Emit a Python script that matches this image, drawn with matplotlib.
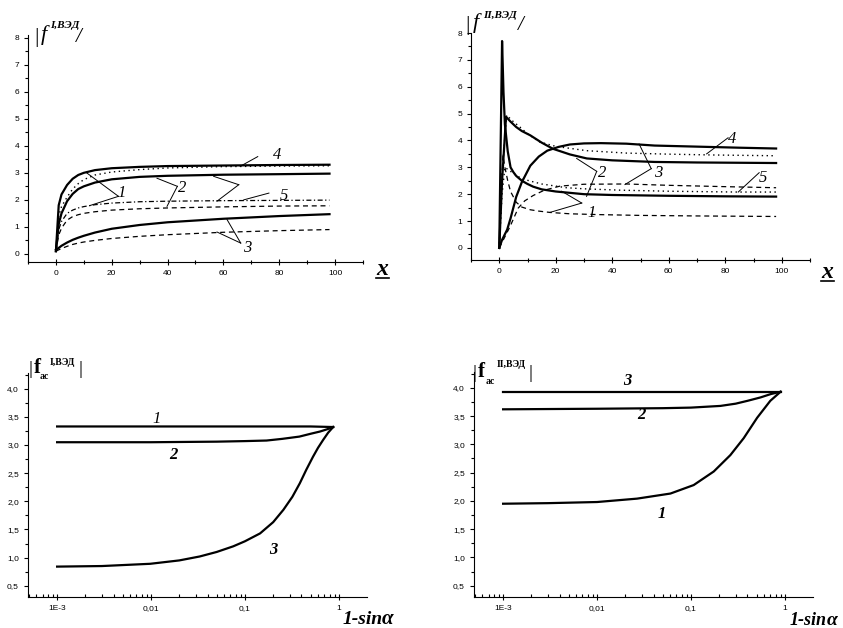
import matplotlib
matplotlib.use("Agg")
import matplotlib.pyplot as plt
from matplotlib.ticker import MultipleLocator, FuncFormatter, LogLocator, NullFormatter
from matplotlib.lines import Line2D

# ---- top-left panel |f^I| vs x ----
tl_x = [0, 1, 2, 4, 6, 8, 10, 14, 20, 30, 40, 60, 80, 98]
tl_solid4 = [0.1, 1.8, 2.2, 2.55, 2.78, 2.92, 3.0, 3.1, 3.17, 3.22, 3.25, 3.27, 3.29, 3.3]
tl_solid2 = [0.1, 1.1, 1.5, 1.95, 2.22, 2.4, 2.5, 2.64, 2.76, 2.85, 2.89, 2.93, 2.95, 2.97]
tl_dot4 = [0.1, 1.4, 1.75, 2.1, 2.4, 2.6, 2.75, 2.92, 3.03, 3.12, 3.18, 3.23, 3.25, 3.26]
tl_dashdot5 = [0.1, 0.9, 1.2, 1.5, 1.62, 1.7, 1.75, 1.82, 1.88, 1.93, 1.95, 1.97, 1.98, 1.99]
tl_dash2 = [0.1, 0.7, 0.95, 1.25, 1.38, 1.45, 1.5, 1.56, 1.62, 1.67, 1.7, 1.74, 1.77, 1.78]
tl_solid3 = [0.15, 0.22, 0.3, 0.42, 0.52, 0.6, 0.67, 0.79, 0.93, 1.07, 1.17, 1.3, 1.4, 1.47]
tl_dash3 = [0.1, 0.15, 0.2, 0.28, 0.35, 0.4, 0.44, 0.5, 0.57, 0.65, 0.71, 0.8, 0.86, 0.9]

# ---- top-right panel |f^II| vs x ----
tr_spike_x = [0, 1, 1.5, 2, 3, 4, 5, 6, 8, 10, 12, 15, 20, 30, 40, 60, 80, 98]
tr_spike_y = [0, 7.7, 5.8, 4.6, 3.6, 3.0, 2.82, 2.68, 2.5, 2.38, 2.28, 2.18, 2.1, 2.0, 1.97, 1.94, 1.92, 1.91]
tr_peak_x = [0, 1, 2.4, 4, 6, 8, 11, 15, 19, 25, 31, 40, 55, 70, 98]
tr_peak_y = [0, 2.5, 4.88, 4.7, 4.5, 4.35, 4.19, 3.92, 3.69, 3.48, 3.33, 3.26, 3.2, 3.18, 3.16]
tr_rise_x = [0, 1, 2.8, 4, 6, 8, 11, 14, 17, 21, 25, 30, 36, 45, 55, 70, 85, 98]
tr_rise_y = [0, 0.3, 0.68, 1.1, 1.9, 2.45, 3.06, 3.4, 3.62, 3.76, 3.85, 3.89, 3.9, 3.88, 3.81, 3.77, 3.73, 3.7]
tr_dash1_x = [0, 0.7, 1.3, 2, 3, 4, 6, 8, 11, 14, 18, 25, 35, 50, 70, 98]
tr_dash1_y = [0, 2.0, 3.45, 3.0, 2.5, 2.1, 1.7, 1.52, 1.42, 1.37, 1.32, 1.27, 1.24, 1.21, 1.19, 1.17]
tr_dash3_x = [0, 1.4, 3.8, 6.7, 9, 12, 16, 21.5, 30, 45, 60, 80, 98]
tr_dash3_y = [0, 0.29, 0.79, 1.48, 1.75, 1.95, 2.15, 2.3, 2.37, 2.38, 2.33, 2.28, 2.24]
tr_dot4_x = [0, 1, 2.6, 5, 7.3, 10, 14.4, 20, 30.9, 45, 60, 75, 98]
tr_dot4_y = [0, 2.8, 4.94, 4.7, 4.5, 4.25, 3.94, 3.78, 3.62, 3.53, 3.49, 3.46, 3.43]
tr_dot5_x = [0, 1, 2, 4, 6, 8, 10.9, 15, 23.8, 30, 42.7, 60, 84, 98]
tr_dot5_y = [0, 2.0, 3.0, 2.85, 2.7, 2.58, 2.49, 2.38, 2.24, 2.2, 2.15, 2.11, 2.08, 2.08]

# ---- bottom-left |f_ac^I| vs 1-sin(a) ----
bl1_x = [1e-3, 0.01, 0.1, 0.5, 0.87]
bl1_y = [3.33, 3.33, 3.33, 3.33, 3.32]
bl2_x = [1e-3, 0.01, 0.05, 0.1, 0.17, 0.25, 0.38, 0.5, 0.63, 0.75, 0.87]
bl2_y = [3.05, 3.05, 3.06, 3.07, 3.08, 3.11, 3.15, 3.2, 3.24, 3.28, 3.32]
bl3_x = [1e-3, 0.003, 0.0098, 0.02, 0.033, 0.05, 0.075, 0.1, 0.145, 0.2, 0.257, 0.32, 0.384, 0.45, 0.53, 0.6, 0.68, 0.77, 0.87]
bl3_y = [0.84, 0.85, 0.89, 0.95, 1.02, 1.1, 1.2, 1.29, 1.43, 1.63, 1.85, 2.08, 2.32, 2.56, 2.79, 2.95, 3.09, 3.22, 3.32]

# ---- bottom-right |f_ac^II| vs 1-sin(a) ----
br3_x = [1e-3, 0.01, 0.1, 0.5, 0.9]
br3_y = [3.93, 3.93, 3.93, 3.93, 3.93]
br2_x = [1e-3, 0.01, 0.05, 0.1, 0.206, 0.3, 0.4, 0.55, 0.71, 0.9]
br2_y = [3.62, 3.63, 3.64, 3.65, 3.68, 3.72, 3.77, 3.83, 3.89, 3.93]
br1_x = [1e-3, 0.003, 0.01, 0.0267, 0.0605, 0.107, 0.175, 0.263, 0.365, 0.507, 0.7, 0.9]
br1_y = [1.95, 1.96, 1.98, 2.04, 2.13, 2.28, 2.52, 2.81, 3.11, 3.47, 3.77, 3.93]

log_ticks = [1e-3, 0.01, 0.1, 1]
log_labels = ['1E-3', '0,01', '0,1', '1']

W, H = 843, 628
plt.rcParams['font.family'] = ['Liberation Sans', 'DejaVu Sans']
fig = plt.figure(figsize=(W / 100, H / 100), dpi=100)

def ax_px(l, t, r, b):
    # axes box given in pixel coords of the image
    return fig.add_axes([l / W, 1 - b / H, (r - l) / W, (b - t) / H])

def style(ax):
    ax.spines['top'].set_visible(False)
    ax.spines['right'].set_visible(False)
    ax.tick_params(which='both', labelsize=6, width=0.8)
    ax.tick_params(axis='y', which='major', direction='out', length=3)
    ax.tick_params(axis='y', which='minor', direction='out', length=2)
    ax.tick_params(axis='x', which='major', direction='inout', length=4)
    ax.tick_params(axis='x', which='minor', direction='inout', length=2.5)

def lead(ax, x0, y0, pts):
    for (x1, y1) in pts:
        ax.plot([x0, x1], [y0, y1], color='k', lw=0.7)

def lab(ax, x, y, s, bold=False, size=12):
    ax.text(x, y, s, fontsize=size, family='Liberation Serif', style='italic',
            weight='bold' if bold else 'normal', ha='center', va='center')

SOL = dict(color='k', lw=1.6)
DSH = dict(color='k', lw=0.9, ls=(0, (4, 3)))
DOT = dict(color='k', lw=1.0, ls=(0, (1, 2.5)))
DDT = dict(color='k', lw=0.9, ls=(0, (4, 2, 1, 2)))

# top-left
ax1 = ax_px(28, 35, 363, 262)
ax1.plot(tl_x, tl_solid4, **SOL)
ax1.plot(tl_x, tl_dot4, **DOT)
ax1.plot(tl_x, tl_solid2, **SOL)
ax1.plot(tl_x, tl_dashdot5, **DDT)
ax1.plot(tl_x, tl_dash2, **DSH)
ax1.plot(tl_x, tl_solid3, **SOL)
ax1.plot(tl_x, tl_dash3, **DSH)
lead(ax1, 72.3, 3.6, [(66, 3.24)])
lab(ax1, 79.3, 3.67, '4')
lead(ax1, 22.4, 2.13, [(11, 3.0), (12.2, 1.79)])
lab(ax1, 23.5, 2.25, '1')
lead(ax1, 43.5, 2.5, [(36.2, 2.8), (39.8, 1.76)])
lab(ax1, 45.3, 2.44, '2')
lead(ax1, 65.5, 2.56, [(56.5, 2.87), (57.7, 1.95)])
lead(ax1, 76.3, 2.25, [(67.3, 2.0)])
lab(ax1, 81.7, 2.13, '5')
lead(ax1, 66.2, 0.4, [(61.3, 1.27), (57.7, 0.81)])
lab(ax1, 68.5, 0.22, '3')

ax1.set_xlim(-10, 110)
ax1.set_ylim(-0.3, 8.1)
ax1.xaxis.set_major_locator(MultipleLocator(20))
ax1.xaxis.set_minor_locator(MultipleLocator(10))
ax1.yaxis.set_major_locator(MultipleLocator(1))
ax1.yaxis.set_minor_locator(MultipleLocator(0.5))
style(ax1)

# top-right
ax2 = ax_px(471, 33, 810, 260)
ax2.plot(tr_spike_x, tr_spike_y, **SOL)
ax2.plot(tr_peak_x, tr_peak_y, **SOL)
ax2.plot(tr_rise_x, tr_rise_y, **SOL)
ax2.plot(tr_dash1_x, tr_dash1_y, **DSH)
ax2.plot(tr_dash3_x, tr_dash3_y, **DSH)
ax2.plot(tr_dot4_x, tr_dot4_y, **DOT)
ax2.plot(tr_dot5_x, tr_dot5_y, **DOT)
lead(ax2, 81, 4.1, [(73.4, 3.5)])
lab(ax2, 82.5, 4.05, '4')
lead(ax2, 53.8, 2.95, [(49.5, 3.87), (44.5, 2.36)])
lab(ax2, 56.3, 2.8, '3')
lead(ax2, 92, 2.8, [(84.6, 2.08)])
lab(ax2, 93.5, 2.6, '5')
lead(ax2, 34.5, 2.85, [(27.4, 3.33), (30.9, 1.92)])
lab(ax2, 36.5, 2.8, '2')
lead(ax2, 29.2, 1.67, [(17.9, 1.32), (22.1, 2.11)])
lab(ax2, 32.7, 1.3, '1')

ax2.set_xlim(-10, 110)
ax2.set_ylim(-0.45, 8.0)
ax2.xaxis.set_major_locator(MultipleLocator(20))
ax2.xaxis.set_minor_locator(MultipleLocator(10))
ax2.yaxis.set_major_locator(MultipleLocator(1))
ax2.yaxis.set_minor_locator(MultipleLocator(0.5))
style(ax2)

comma = FuncFormatter(lambda v, p: ('%.1f' % v).replace('.', ','))

# bottom-left
ax3 = ax_px(28, 373, 367, 597)
ax3.plot(bl1_x, bl1_y, **SOL)
ax3.plot(bl2_x, bl2_y, **SOL)
ax3.plot(bl3_x, bl3_y, **SOL)
lab(ax3, 0.0115, 3.47, '1')
lab(ax3, 0.0172, 2.82, '2', bold=True)
lab(ax3, 0.2, 1.14, '3', bold=True)

# bottom-right
ax4 = ax_px(474, 372, 813, 597)
ax4.plot(br3_x, br3_y, **SOL)
ax4.plot(br2_x, br2_y, **SOL)
ax4.plot(br1_x, br1_y, **SOL)
lab(ax4, 0.021, 4.12, '3', bold=True)
lab(ax4, 0.030, 3.52, '2', bold=True)
lab(ax4, 0.049, 1.77, '1', bold=True)

for ax in (ax3, ax4):
    ax.set_xscale('log')
    ax.set_xlim(10 ** -3.31, 10 ** 0.3)
    ax.set_ylim(0.3, 4.28)
    ax.set_xticks(log_ticks)
    ax.set_xticklabels(log_labels)
    ax.xaxis.set_minor_locator(LogLocator(base=10, subs=range(2, 10)))
    ax.xaxis.set_minor_formatter(NullFormatter())
    ax.yaxis.set_major_locator(MultipleLocator(0.5))
    ax.yaxis.set_minor_locator(MultipleLocator(0.25))
    ax.yaxis.set_major_formatter(comma)
    style(ax)
    ax.tick_params(axis='x', which='minor', direction='in', length=2)

# axis titles (placed in image pixel coords)
def ftxt(px, py, s, size, bold=False, italic=True, ha='left'):
    fig.text(px / W, 1 - py / H, s, fontsize=size, family='Liberation Serif',
             style='italic' if italic else 'normal', weight='bold' if bold else 'normal',
             ha=ha, va='baseline')

ftxt(33, 42, '|', 15)
ftxt(41, 40, 'f', 16)
ftxt(50, 28, 'I,ВЭД', 8, bold=True)
ftxt(76, 42, '/', 15)
ftxt(464, 30, '|', 15)
ftxt(473, 28, 'f', 16)
ftxt(483, 18, 'II,ВЭД', 8, bold=True)
ftxt(518, 30, '/', 15)

ftxt(29, 374, '|', 14, italic=False)
ftxt(34, 373, 'f', 15, bold=True, italic=False)
ftxt(40, 379, 'ac', 7, bold=True, italic=False)
ftxt(50, 365, 'I,ВЭД', 7, bold=True, italic=False)
ftxt(79, 374, '|', 14, italic=False)
ftxt(473, 378, '|', 14, italic=False)
ftxt(478, 377, 'f', 15, bold=True, italic=False)
ftxt(486, 384, 'ac', 7, bold=True, italic=False)
ftxt(497, 367, 'II,ВЭД', 7, bold=True, italic=False)
ftxt(529, 378, '|', 14, italic=False)

ftxt(376, 275, 'x', 17, bold=True)
fig.add_artist(Line2D([376 / W, 389 / W], [1 - 278 / H, 1 - 278 / H], color='k', lw=1.2))
ftxt(821, 278, 'x', 17, bold=True)
fig.add_artist(Line2D([821 / W, 834 / W], [1 - 281 / H, 1 - 281 / H], color='k', lw=1.2))

ftxt(343, 624, '1-sin', 14, bold=True)
ftxt(382, 624, 'α', 15, bold=True)
ftxt(790, 625, '1-sin', 13, bold=True)
ftxt(827, 625, 'α', 14, bold=True)

fig.savefig('out.png', dpi=100)
